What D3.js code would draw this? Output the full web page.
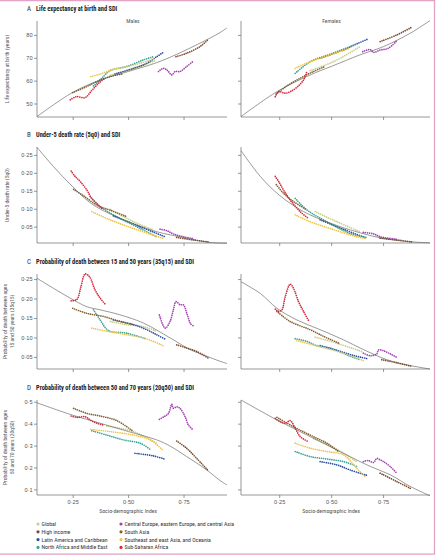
<!DOCTYPE html>
<html>
<head>
<meta charset="utf-8">
<script src="https://cdn.jsdelivr.net/npm/d3@7"></script>
<style>
  body { margin: 0; background: #fff; }
  svg text { font-family: "Liberation Sans Narrow", "Roboto Condensed", "Liberation Sans", sans-serif; }
</style>
</head>
<body>
<div id="chart"></div>
<script>
var width = 438, height = 556;

var regions = ["Global", "High income", "Latin America and Caribbean", "North Africa and Middle East",
  "Central Europe, eastern Europe, and central Asia", "South Asia", "Southeast and east Asia, and Oceania", "Sub-Saharan Africa"];
var regionColors = ["#c9cf84", "#7d4a2c", "#2c4ea0", "#36a59b", "#a53fb5", "#84612f", "#f0c54e", "#d8283c"];

// life expectancy (A)
var frontierLeMale = [[0.089,44.3],[0.249,54.8],[0.374,60.3],[0.501,64.0],[0.629,67.9],[0.719,71.5],[0.824,76.4],[0.914,81.0],[0.946,83.1]];
var frontierLeFemale = [[0.066,44.3],[0.239,55.2],[0.399,62.5],[0.5,66.2],[0.639,71.3],[0.752,74.9],[0.88,80.7],[0.976,86.3]];
var leMale = [
  [[0.419,62.4],[0.494,64.4],[0.554,66.2],[0.621,68.8]],
  [[0.716,70.5],[0.764,72.0],[0.824,74.9],[0.862,78.1]],
  [[0.441,62.9],[0.524,65.4],[0.584,67.6],[0.629,70.5],[0.659,72.4]],
  [[0.344,57.7],[0.374,60.3],[0.419,64.4],[0.494,66.2],[0.569,69.1],[0.614,70.5]],
  [[0.637,64.0],[0.659,65.4],[0.677,64.5],[0.697,62.5],[0.712,64.0],[0.734,64.0],[0.764,66.2],[0.791,68.3]],
  [[0.25,54.8],[0.306,57.1],[0.359,59.6],[0.419,61.8],[0.471,62.9]],
  [[0.332,61.8],[0.374,62.9],[0.426,64.7],[0.494,66.2],[0.554,67.6],[0.621,69.8]],
  [[0.239,51.6],[0.266,53.0],[0.306,52.6],[0.336,55.7],[0.371,59.2],[0.396,61.0]]
];
var leFemale = [
  [[0.399,64.4],[0.511,68.3],[0.639,74.9]],
  [[0.736,77.1],[0.816,80.0],[0.888,83.4]],
  [[0.447,69.8],[0.559,73.4],[0.623,76.1],[0.679,78.3]],
  [[0.327,63.2],[0.399,68.3],[0.495,71.6],[0.591,74.9],[0.623,76.1]],
  [[0.652,72.7],[0.688,73.6],[0.704,72.4],[0.736,73.4],[0.776,74.2],[0.816,77.5]],
  [[0.236,54.2],[0.287,57.7],[0.351,61.1],[0.415,64.0],[0.471,66.2]],
  [[0.327,65.4],[0.399,68.3],[0.495,71.3],[0.591,74.2]],
  [[0.231,53.0],[0.247,55.2],[0.279,54.5],[0.303,55.2],[0.335,57.1],[0.367,60.3],[0.383,64.0]]
];

// under-5 death rate (B)
var frontierU5Male = [[0.089,0.271],[0.164,0.217],[0.249,0.162],[0.344,0.110],[0.501,0.064],[0.629,0.036],[0.749,0.020],[0.869,0.006],[0.946,0.004]];
var frontierU5Female = [[0.066,0.262],[0.159,0.190],[0.25,0.138],[0.367,0.092],[0.5,0.059],[0.639,0.033],[0.752,0.017],[0.88,0.008],[0.976,0.005]];
var u5Male = [
  [[0.419,0.098],[0.524,0.064],[0.614,0.041]],
  [[0.719,0.020],[0.794,0.013],[0.869,0.007]],
  [[0.434,0.080],[0.554,0.050],[0.666,0.022]],
  [[0.329,0.134],[0.374,0.106],[0.449,0.078],[0.554,0.045],[0.629,0.022]],
  [[0.644,0.043],[0.674,0.039],[0.704,0.030],[0.749,0.022],[0.794,0.017]],
  [[0.254,0.154],[0.299,0.136],[0.359,0.110],[0.419,0.096],[0.494,0.078]],
  [[0.336,0.092],[0.419,0.069],[0.524,0.045],[0.659,0.017]],
  [[0.243,0.205],[0.261,0.190],[0.284,0.176],[0.314,0.152],[0.336,0.129],[0.366,0.110],[0.381,0.101]]
];
var u5Female = [
  [[0.423,0.092],[0.527,0.064],[0.639,0.036]],
  [[0.736,0.018],[0.816,0.013],[0.896,0.007]],
  [[0.447,0.069],[0.559,0.043],[0.671,0.018]],
  [[0.327,0.129],[0.383,0.097],[0.479,0.064],[0.591,0.031],[0.671,0.020]],
  [[0.655,0.034],[0.704,0.030],[0.736,0.022],[0.816,0.015]],
  [[0.236,0.167],[0.271,0.143],[0.319,0.120],[0.383,0.097]],
  [[0.327,0.083],[0.399,0.064],[0.495,0.045],[0.623,0.022],[0.671,0.017]],
  [[0.231,0.190],[0.247,0.176],[0.271,0.152],[0.303,0.124],[0.351,0.092],[0.391,0.073]]
];

// 35q15 (C)
var frontierAdultMale = [[0.089,0.252],[0.164,0.226],[0.239,0.201],[0.314,0.179],[0.374,0.171],[0.464,0.158],[0.569,0.137],[0.689,0.099],[0.779,0.069],[0.854,0.052],[0.914,0.039],[0.946,0.033]];
var frontierAdultFemale = [[0.066,0.243],[0.159,0.213],[0.239,0.175],[0.335,0.145],[0.447,0.120],[0.559,0.094],[0.655,0.069],[0.768,0.043],[0.88,0.028],[0.976,0.019]];
var adultMale = [
  [[0.419,0.141],[0.494,0.133],[0.569,0.128],[0.629,0.116]],
  [[0.719,0.081],[0.764,0.073],[0.809,0.064],[0.862,0.047]],
  [[0.434,0.145],[0.524,0.133],[0.584,0.120],[0.629,0.107],[0.666,0.096]],
  [[0.344,0.171],[0.374,0.145],[0.411,0.118],[0.494,0.111],[0.584,0.096]],
  [[0.641,0.158],[0.667,0.124],[0.689,0.141],[0.704,0.171],[0.716,0.192],[0.734,0.184],[0.749,0.184],[0.767,0.158],[0.782,0.135],[0.794,0.130]],
  [[0.25,0.175],[0.314,0.162],[0.389,0.154],[0.464,0.141],[0.524,0.133]],
  [[0.336,0.124],[0.404,0.116],[0.494,0.107],[0.569,0.099],[0.659,0.079]],
  [[0.243,0.194],[0.269,0.198],[0.287,0.230],[0.306,0.263],[0.326,0.256],[0.351,0.222],[0.374,0.201],[0.396,0.186]]
];
var adultFemale = [
  [[0.423,0.101],[0.535,0.084],[0.647,0.064]],
  [[0.744,0.043],[0.816,0.035],[0.888,0.026]],
  [[0.447,0.079],[0.527,0.067],[0.607,0.054],[0.679,0.045]],
  [[0.327,0.097],[0.383,0.090],[0.431,0.079],[0.495,0.073],[0.591,0.052],[0.639,0.043]],
  [[0.655,0.060],[0.688,0.053],[0.720,0.058],[0.728,0.068],[0.752,0.066],[0.784,0.058],[0.816,0.049]],
  [[0.239,0.167],[0.303,0.141],[0.399,0.120],[0.463,0.103],[0.535,0.086]],
  [[0.335,0.092],[0.447,0.076],[0.559,0.060],[0.663,0.039]],
  [[0.231,0.173],[0.247,0.167],[0.263,0.171],[0.279,0.205],[0.303,0.237],[0.319,0.226],[0.343,0.192],[0.367,0.167],[0.391,0.144]]
];

// 20q50 (D)
var frontierOldMale = [[0.089,0.495],[0.249,0.439],[0.374,0.402],[0.501,0.364],[0.629,0.326],[0.689,0.298],[0.764,0.250],[0.854,0.189],[0.914,0.141],[0.946,0.12]];
var frontierOldFemale = [[0.066,0.508],[0.239,0.417],[0.399,0.341],[0.559,0.265],[0.688,0.205],[0.784,0.167],[0.88,0.114],[0.976,0.071]];
var oldMale = [
  [[0.404,0.389],[0.524,0.364],[0.629,0.311]],
  [[0.719,0.321],[0.764,0.288],[0.809,0.242],[0.862,0.185]],
  [[0.531,0.265],[0.614,0.253],[0.666,0.238]],
  [[0.336,0.368],[0.404,0.348],[0.479,0.326],[0.554,0.311],[0.599,0.283]],
  [[0.641,0.420],[0.662,0.432],[0.682,0.447],[0.697,0.489],[0.704,0.470],[0.719,0.477],[0.734,0.470],[0.757,0.432],[0.772,0.394],[0.791,0.374]],
  [[0.254,0.470],[0.314,0.447],[0.374,0.435],[0.449,0.414],[0.524,0.364]],
  [[0.332,0.374],[0.419,0.364],[0.524,0.348],[0.599,0.326],[0.659,0.277]],
  [[0.243,0.435],[0.269,0.429],[0.306,0.432],[0.329,0.417],[0.359,0.402],[0.389,0.394]]
];
var oldFemale = [
  [[0.415,0.333],[0.527,0.283],[0.623,0.227]],
  [[0.736,0.174],[0.816,0.136],[0.888,0.102]],
  [[0.447,0.227],[0.527,0.212],[0.591,0.189],[0.679,0.162]],
  [[0.327,0.273],[0.399,0.250],[0.479,0.239],[0.559,0.227],[0.607,0.212],[0.623,0.205]],
  [[0.655,0.227],[0.679,0.232],[0.704,0.223],[0.720,0.242],[0.736,0.235],[0.752,0.227],[0.784,0.205],[0.816,0.174]],
  [[0.239,0.429],[0.319,0.386],[0.399,0.348],[0.479,0.311],[0.535,0.273]],
  [[0.327,0.311],[0.399,0.288],[0.479,0.273],[0.559,0.258],[0.623,0.197],[0.663,0.159]],
  [[0.231,0.424],[0.255,0.409],[0.279,0.402],[0.303,0.414],[0.327,0.379],[0.351,0.341],[0.391,0.318]]
];

var sdiTicks = [0.25, 0.5, 0.75];

var panels = [
  {letter: "A", title: "Life expectancy at birth and SDI", ylabel: ["Life expectancy at birth (years)"],
   top: 21, bottom: 117, domain: [44.1, 86.1], ticks: [50, 60, 70, 80], fmt: d => d,
   male: leMale, female: leFemale, fMale: frontierLeMale, fFemale: frontierLeFemale},
  {letter: "B", title: "Under-5 death rate (5q0) and SDI", ylabel: ["Under-5 death rate (5q0)"],
   top: 147, bottom: 243, domain: [0.0045, 0.272], ticks: [0.05, 0.1, 0.15, 0.2, 0.25], fmt: d => d.toFixed(2).replace(".", "·"),
   male: u5Male, female: u5Female, fMale: frontierU5Male, fFemale: frontierU5Female},
  {letter: "C", title: "Probability of death between 15 and 50 years (35q15) and SDI", ylabel: ["Probability of death between ages", "15 and 50 years (35q15)"],
   top: 274, bottom: 369, domain: [0.019, 0.263], ticks: [0.05, 0.1, 0.15, 0.2, 0.25], fmt: d => d.toFixed(2).replace(".", "·"),
   male: adultMale, female: adultFemale, fMale: frontierAdultMale, fFemale: frontierAdultFemale},
  {letter: "D", title: "Probability of death between 50 and 70 years (20q50) and SDI", ylabel: ["Probability of death between ages", "50 and 70 years (20q50)"],
   top: 400, bottom: 495, domain: [0.0745, 0.508], ticks: [0.1, 0.2, 0.3, 0.4, 0.5], fmt: d => d.toFixed(1).replace(".", "·"),
   male: oldMale, female: oldFemale, fMale: frontierOldMale, fFemale: frontierOldFemale}
];

var xLeft = d3.scaleLinear().domain([0.089, 0.946]).range([37, 227]);
var xRight = d3.scaleLinear().domain([0.066, 0.976]).range([241, 430]);

var svg = d3.select("#chart").append("svg")
  .attr("width", width)
  .attr("height", height);

svg.append("rect").attr("width", width).attr("height", height).attr("fill", "#fff");

// pink frame
svg.append("rect")
  .attr("x", -3).attr("y", 0.6)
  .attr("width", 437.5).attr("height", 553.5)
  .attr("fill", "none").attr("stroke", "#e2a3c4").attr("stroke-width", 1.3);

var axisColor = "#6b6b6b";

panels.forEach(function(p, pi) {
  var y = d3.scaleLinear().domain(p.domain).range([p.bottom, p.top]);

  // title
  var t = svg.append("text").attr("x", 27).attr("y", p.top - 10 - (pi == 0 ? 0 : 0))
    .attr("font-size", 6.4).attr("fill", "#222");
  t.append("tspan").text(p.letter).attr("font-size", 7).attr("fill", "#333");
  t.append("tspan").attr("x", 36).text(p.title).attr("font-weight", "bold");

  // y label
  var midY = (p.top + p.bottom) / 2;
  p.ylabel.forEach(function(l, li) {
    var lx = p.ylabel.length == 1 ? 9 : 7 + li * 7;
    svg.append("text")
      .attr("transform", "translate(" + lx + "," + midY + ") rotate(-90)")
      .attr("text-anchor", "middle")
      .attr("font-size", 5.6).attr("fill", "#555")
      .text(l);
  });

  [["male", xLeft, p.male, p.fMale], ["female", xRight, p.female, p.fFemale]].forEach(function(s, si) {
    var x = s[1];
    var g = svg.append("g");

    var ya = g.append("g")
      .attr("transform", "translate(" + x.range()[0] + ",0)")
      .call(d3.axisLeft(y).tickValues(p.ticks).tickSize(3).tickPadding(1.5).tickFormat(si == 0 ? p.fmt : ""));
    ya.select(".domain").attr("d", "M0," + p.top + "V" + p.bottom);

    var xa = g.append("g")
      .attr("transform", "translate(0," + p.bottom + ")")
      .call(d3.axisBottom(x).tickValues(sdiTicks).tickSize(3).tickPadding(2)
        .tickFormat(pi == 3 ? (d => d.toFixed(2).replace(".", "·")) : ""));
    xa.select(".domain").attr("d", "M" + x.range()[0] + ",0H" + x.range()[1]);

    g.selectAll(".domain, .tick line").attr("stroke", axisColor).attr("stroke-width", 0.7);
    g.selectAll(".tick text").attr("fill", "#555").attr("font-size", 5.6)
      .style("font-family", '"Liberation Sans Narrow", "Liberation Sans", sans-serif');

    var line = d3.line()
      .x(d => x(d[0]))
      .y(d => y(d[1]))
      .curve(d3.curveCatmullRom);

    g.append("g").selectAll("path")
      .data(s[2])
      .join("path")
      .attr("d", line)
      .attr("fill", "none")
      .attr("stroke", (d, i) => regionColors[i])
      .attr("stroke-width", 1.7)
      .attr("stroke-linecap", "round")
      .attr("stroke-dasharray", "0 2.1");

    g.append("path")
      .attr("d", line(s[3]))
      .attr("fill", "none")
      .attr("stroke", "#555")
      .attr("stroke-width", 0.6);

    if (pi == 0) {
      g.append("text")
        .attr("x", (x.range()[0] + x.range()[1]) / 2 + (si == 0 ? 1 : -4))
        .attr("y", 23)
        .attr("text-anchor", "middle")
        .attr("font-size", 5.6).attr("fill", "#555")
        .text(si == 0 ? "Males" : "Females");
    }
    if (pi == 3) {
      g.append("text")
        .attr("x", x(0.5))
        .attr("y", 513)
        .attr("text-anchor", "middle")
        .attr("font-size", 5.8).attr("fill", "#555")
        .text("Socio-demographic Index");
    }
  });
});

// legend
var legendCols = [[0, 1, 2, 3], [4, 5, 6, 7]];
var legendX = [38, 121];
legendCols.forEach(function(col, ci) {
  col.forEach(function(ri, k) {
    var ly = 524 + k * 7.8;
    svg.append("circle").attr("cx", legendX[ci]).attr("cy", ly).attr("r", 1.6).attr("fill", regionColors[ri]);
    svg.append("text").attr("x", legendX[ci] + 3.5).attr("y", ly + 2)
      .attr("font-size", 5.8).attr("fill", "#333").text(regions[ri]);
  });
});
</script>
</body>
</html>
